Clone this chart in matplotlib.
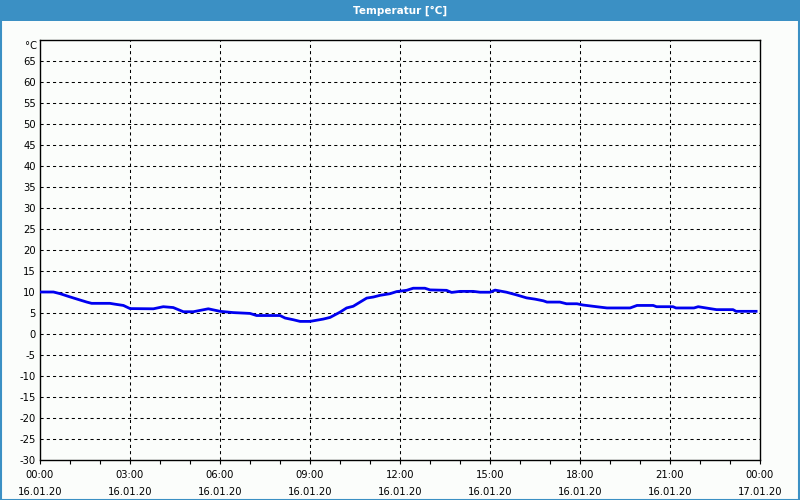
import matplotlib
matplotlib.use('Agg')
import matplotlib.pyplot as plt
from matplotlib.patches import Rectangle
from matplotlib.ticker import MultipleLocator

# Hours since 16.01.20 00:00 and temperature in °C
hours = [0.0, 0.45, 0.67, 0.97, 1.33, 1.56, 1.72, 2.33, 2.5, 2.78, 3.0, 3.78,
         4.11, 4.44, 4.78, 5.11, 5.61, 6.0, 6.44, 7.0, 7.22, 8.0, 8.17, 8.44,
         8.67, 9.0, 9.44, 9.67, 10.0, 10.22, 10.44, 10.67, 10.89, 11.11, 11.33,
         11.67, 11.89, 12.22, 12.44, 12.83, 13.0, 13.55, 13.72, 14.0, 14.44,
         14.67, 15.0, 15.17, 15.55, 15.89, 16.22, 16.5, 16.78, 16.9, 17.33,
         17.55, 17.9, 18.1, 18.55, 18.9, 19.67, 19.9, 20.44, 20.55, 21.1, 21.2,
         21.8, 21.94, 22.2, 22.55, 23.1, 23.2, 23.87]
temps = [10.0, 10.0, 9.6, 8.9, 8.1, 7.6, 7.3, 7.3, 7.1, 6.8, 6.05, 6.0,
         6.5, 6.3, 5.3, 5.3, 6.0, 5.4, 5.1, 4.9, 4.4, 4.4, 3.8, 3.4,
         3.0, 3.0, 3.55, 3.95, 5.2, 6.2, 6.6, 7.6, 8.55, 8.8, 9.2,
         9.6, 10.1, 10.4, 10.9, 10.9, 10.5, 10.4, 9.9, 10.15, 10.15,
         9.95, 9.95, 10.45, 9.95, 9.3, 8.6, 8.3, 7.9, 7.6, 7.6,
         7.2, 7.2, 6.9, 6.5, 6.2, 6.2, 6.8, 6.8, 6.5, 6.5, 6.2,
         6.2, 6.5, 6.2, 5.8, 5.8, 5.4, 5.4]

x_ticks = [0, 3, 6, 9, 12, 15, 18, 21, 24]
x_labels = ['00:00\n16.01.20', '03:00\n16.01.20', '06:00\n16.01.20',
            '09:00\n16.01.20', '12:00\n16.01.20', '15:00\n16.01.20',
            '18:00\n16.01.20', '21:00\n16.01.20', '00:00\n17.01.20']
y_ticks = list(range(-30, 70, 5))

bg = '#fbfdfb'
bar = '#3b90c4'
fs = 7.2

fig = plt.figure(figsize=(8, 5), dpi=100, facecolor=bg)

# title bar and window border
fig.patches.append(Rectangle((0, 0.958), 1, 0.042, transform=fig.transFigure,
                             facecolor=bar, edgecolor='none', zorder=0))
fig.patches.append(Rectangle((0.001, 0.001), 0.998, 0.998, transform=fig.transFigure,
                             facecolor='none', edgecolor=bar, linewidth=1.5, zorder=0))
fig.text(0.5, 0.979, 'Temperatur [°C]', color='white', fontsize=7.5,
         fontweight='bold', ha='center', va='center')

ax = fig.add_axes([0.05, 0.08, 0.90, 0.84], facecolor=bg)
ax.plot(hours, temps, color='#0000f0', linewidth=2.0, zorder=3)

ax.set_xlim(0, 24)
ax.set_ylim(-30, 70)
ax.set_xticks(x_ticks)
ax.set_xticklabels(x_labels, fontsize=fs, linespacing=1.85)
ax.xaxis.set_minor_locator(MultipleLocator(1))
ax.set_yticks(y_ticks)
ax.set_yticklabels([str(v) for v in y_ticks], fontsize=fs)
ax.tick_params(axis='x', which='both', direction='out', length=3, width=0.8, pad=4)
ax.tick_params(axis='y', length=0, pad=3)
ax.text(-0.004, 68.6, '°C', transform=ax.get_yaxis_transform(), fontsize=fs,
        ha='right', va='center')

for v in y_ticks[1:]:
    ax.axhline(v, color='black', linewidth=0.75, linestyle=(0, (3, 3)), zorder=1)
for h in x_ticks[1:-1]:
    ax.axvline(h, color='black', linewidth=0.75, linestyle=(0, (3, 3)), zorder=1)

for s in ax.spines.values():
    s.set_linewidth(1.0)

fig.savefig('out.png', dpi=100, facecolor=bg)
